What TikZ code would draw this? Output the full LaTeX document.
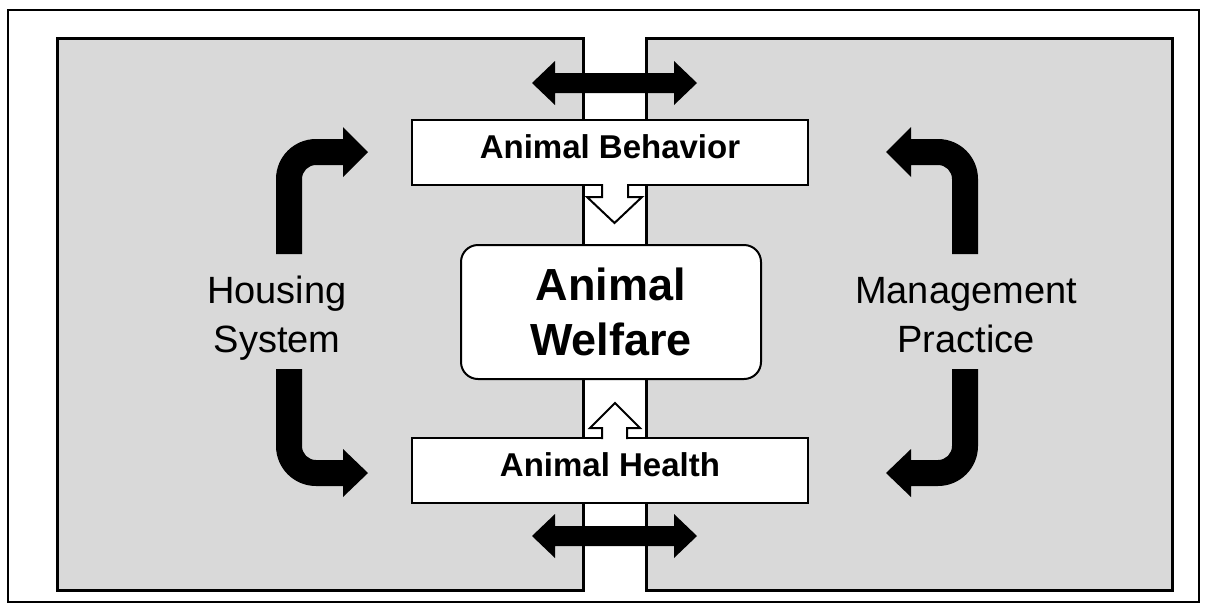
\documentclass[tikz,border=0pt]{standalone}
\usepackage{fontspec}
\setmainfont{Liberation Sans}
\definecolor{panelgray}{RGB}{217,217,217}
\begin{document}
\begin{tikzpicture}[x=1pt,y=-1pt,
  panel/.style={draw=black, fill=panelgray, line width=3pt, minimum width=526pt, minimum height=552pt, inner sep=0pt},
  smallbox/.style={draw=black, fill=white, line width=2pt, minimum width=396pt, inner xsep=0pt, inner ysep=0pt,
     text height=38pt, text depth=27pt, font=\fontsize{33}{40}\selectfont\bfseries},
  bigbox/.style={draw=black, fill=white, line width=2pt, rounded corners=17pt, minimum width=300pt, minimum height=134pt,
     inner sep=0pt, align=center, font=\fontsize{45}{55}\selectfont\bfseries},
  sidelabel/.style={anchor=north, align=center, inner sep=0pt, font=\fontsize{38}{49}\selectfont},
  blockarrow/.style={fill=black},
  hollowarrow/.style={draw=black, line width=2pt, line join=miter}
]
\useasboundingbox (0,0) rectangle (1207,611);
% outer frame
\draw[line width=1.3pt] (8,10) rectangle (1199,602);

% panels
\node[panel] (lpanel) at (320,314) {};
\node[panel] (rpanel) at (909,314) {};

% double arrows
\fill[blockarrow] (532,83) -- (555,61) -- (555,73) -- (674,73) -- (674,61) -- (697,83)
   -- (674,105) -- (674,93) -- (555,93) -- (555,105) -- cycle;
\fill[blockarrow] (532,536) -- (555,514) -- (555,526) -- (674,526) -- (674,514) -- (697,536)
   -- (674,558) -- (674,546) -- (555,546) -- (555,558) -- cycle;

% bent arrows, left
\fill[blockarrow] (276,254) -- (276,179) arc[start angle=180,end angle=270,radius=40] -- (343,139)
   -- (343,127) -- (368,152) -- (343,177) -- (343,165) -- (316,165)
   arc[start angle=270,end angle=180,radius=14] -- (302,254) -- cycle;
\fill[blockarrow] (276,369) -- (276,446) arc[start angle=180,end angle=90,radius=40] -- (343,486)
   -- (343,497) -- (368,473) -- (343,449) -- (343,460) -- (316,460)
   arc[start angle=90,end angle=180,radius=14] -- (302,369) -- cycle;
% bent arrows, right (mirror)
\begin{scope}[shift={(1254,0)}, xscale=-1]
\fill[blockarrow] (276,254) -- (276,179) arc[start angle=180,end angle=270,radius=40] -- (343,139)
   -- (343,127) -- (368,152) -- (343,177) -- (343,165) -- (316,165)
   arc[start angle=270,end angle=180,radius=14] -- (302,254) -- cycle;
\fill[blockarrow] (276,369) -- (276,446) arc[start angle=180,end angle=90,radius=40] -- (343,486)
   -- (343,497) -- (368,473) -- (343,449) -- (343,460) -- (316,460)
   arc[start angle=90,end angle=180,radius=14] -- (302,369) -- cycle;
\end{scope}

% side labels
\node[sidelabel] (housing) at (277,276) {Housing\\System};
\node[sidelabel] (management) at (966,277) {Management\\Practice};

% boxes
\node[smallbox] (behavior) at (610,152.5) {Animal Behavior};
\node[smallbox] (health) at (610,470.5) {Animal Health};
\node[bigbox] (welfare) at (611,312) {Animal\\Welfare};

% hollow arrows
\fill[white] (602,183) -- (602,197) -- (587,197) -- (614.5,223) -- (642,197) -- (628,197) -- (628,183) -- cycle;
\draw[hollowarrow] (602,184) -- (602,197) -- (587,197) -- (614.5,223) -- (642,197) -- (628,197) -- (628,184);
\fill[white] (602,440) -- (602,428) -- (590,428) -- (615,403) -- (640,428) -- (627,428) -- (627,440) -- cycle;
\draw[hollowarrow] (602,439) -- (602,428) -- (590,428) -- (615,403) -- (640,428) -- (627,428) -- (627,439);
\end{tikzpicture}
\end{document}
